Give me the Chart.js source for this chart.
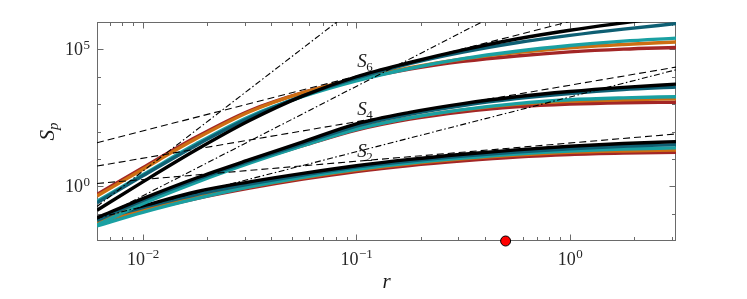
<!DOCTYPE html>
<html><head><meta charset="utf-8">
<script src="https://cdn.jsdelivr.net/npm/chart.js@4/dist/chart.umd.min.js"></script>
<style>html,body{margin:0;padding:0;background:#fff}</style>
</head><body>
<canvas id="c" width="747" height="299"></canvas>
<script>
// ---------- data ----------
const r = [0.0061, 0.01, 0.0178, 0.0316, 0.0562, 0.1, 0.178, 0.316, 0.562, 1, 1.78, 3.14];

const S6_black    = [0.133, 1.445, 21.4, 251, 1995, 10000, 33110, 95500, 239900, 501200, 933300, 1660000];
const S6_darkteal = [0.251, 2.40, 31.6, 316, 1995, 8913, 30200, 79430, 173800, 323600, 549500, 871000];
const S6_teal     = [0.282, 2.63, 35.5, 355, 1905, 7079, 19950, 45710, 85110, 138000, 199500, 257000];
const S6_orange   = [0.437, 4.17, 55.0, 525, 2630, 8318, 21380, 44670, 75860, 114800, 151400, 186200];
const S6_red      = [0.501, 4.79, 63.1, 575, 2630, 7943, 19050, 36310, 57540, 81280, 102300, 117500];

const S4_black    = [0.0708, 0.355, 2.00, 9.33, 41.7, 190.5, 501, 1047, 1862, 2884, 4074, 5370];
const S4_darkteal = [0.0562, 0.302, 1.738, 8.32, 36.3, 158.5, 426.6, 891, 1585, 2455, 3388, 4169];
const S4_teal     = [0.0380, 0.229, 1.380, 6.92, 30.2, 120.2, 316.2, 631, 1047, 1445, 1698, 1862];
const S4_orange   = [0.0479, 0.282, 1.660, 7.94, 31.6, 125.9, 316, 617, 977, 1259, 1445, 1549];
const S4_red      = [0.0550, 0.316, 1.778, 7.94, 30.2, 112.2, 281.8, 524.8, 794, 1000, 1122, 1175];

const S2_black    = [0.0708, 0.191, 0.631, 1.445, 2.95, 5.62, 9.55, 14.79, 21.38, 28.84, 36.31, 42.66];
const S2_darkteal = [0.0603, 0.166, 0.501, 1.202, 2.57, 5.01, 8.32, 12.59, 17.78, 23.44, 28.84, 33.11];
const S2_teal     = [0.0355, 0.112, 0.355, 0.955, 2.14, 4.17, 7.08, 10.72, 15.14, 19.50, 22.91, 25.12];
const S2_orange   = [0.0479, 0.141, 0.398, 0.955, 2.04, 3.89, 6.61, 10.0, 13.80, 17.38, 19.50, 20.89];
const S2_red      = [0.0447, 0.126, 0.355, 0.851, 1.82, 3.47, 5.75, 8.51, 11.75, 14.45, 16.22, 17.38];

// reference power laws (end points at the axis limits)
const refR = [0.0061, 3.14];
const dashed_S6 = [39.0, 1.03e7];     // ~ r^2
const dashed_S4 = [5.46, 22540];      // ~ r^(4/3)
const dashed_S2 = [1.268, 81.3];      // ~ r^(2/3)
const dashdot_6 = [0.183, 3.4e15];    // ~ r^6
const dashdot_4 = [0.0618, 4.35e9];   // ~ r^4
const dashdot_2 = [0.0678, 17950];    // ~ r^2

const markerR = [0.5];
const markerS = [0.01];

const xMajor = [0.01, 0.1, 1];
const xMinor = [0.007, 0.008, 0.009, 0.02, 0.03, 0.04, 0.05, 0.06, 0.07, 0.08, 0.09,
                0.2, 0.3, 0.4, 0.5, 0.6, 0.7, 0.8, 0.9, 2, 3];
const xTickBase = ['10', '10', '10'];
const xTickExp  = ['\u22122', '\u22121', '0'];
const yMajor = [1, 1e5];
const yMinor = [0.1, 10, 100, 1000, 1e4];
const yTickBase = ['10', '10'];
const yTickExp  = ['0', '5'];

const curveLabels = [
  {main: 'S', sub: '6', r: 0.101, s: 23400},
  {main: 'S', sub: '4', r: 0.101, s: 398},
  {main: 'S', sub: '2', r: 0.101, s: 11.75}
];

// ---------- styles ----------
const C_BLACK = '#000000', C_DTEAL = '#0e5f73', C_TEAL = '#1aa0a2', C_ORANGE = '#cd6e12', C_RED = '#a32626';
const SERIF = '"Liberation Serif", "DejaVu Serif", serif';

function pts(xs, ys) { return xs.map((v, i) => ({x: v, y: ys[i]})); }
function curve(ys, color) {
  return {data: pts(r, ys), borderColor: color, borderWidth: 3.4, pointRadius: 0,
          cubicInterpolationMode: 'monotone', fill: false};
}
function ref(ys, dash) {
  return {data: pts(refR, ys), borderColor: '#000', borderWidth: 1.1, pointRadius: 0,
          borderDash: dash, fill: false};
}
const DASH = [7, 4], DASHDOT = [6, 2.5, 1.5, 2.5];

const datasets = [
  {data: pts(markerR, markerS), showLine: false, pointRadius: 5, pointBackgroundColor: '#ff0000',
   pointBorderColor: '#000', pointBorderWidth: 1, clip: false},
  ref(dashed_S6, DASH), ref(dashed_S4, DASH), ref(dashed_S2, DASH),
  ref(dashdot_6, DASHDOT), ref(dashdot_4, DASHDOT), ref(dashdot_2, DASHDOT),
  curve(S6_black, C_BLACK), curve(S6_darkteal, C_DTEAL), curve(S6_teal, C_TEAL), curve(S6_orange, C_ORANGE), curve(S6_red, C_RED),
  curve(S4_black, C_BLACK), curve(S4_darkteal, C_DTEAL), curve(S4_teal, C_TEAL), curve(S4_orange, C_ORANGE), curve(S4_red, C_RED),
  curve(S2_black, C_BLACK), curve(S2_darkteal, C_DTEAL), curve(S2_teal, C_TEAL), curve(S2_orange, C_ORANGE), curve(S2_red, C_RED)
];

const BASE_FONT = '18px ' + SERIF, EXP_FONT = '13px ' + SERIF;

const deco = {
  id: 'deco',
  beforeDatasetsDraw(chart) {
    const {ctx, chartArea: a, scales: {x, y}} = chart;
    ctx.save();
    ctx.strokeStyle = '#6a6a6a';
    ctx.lineWidth = 1;
    const L = Math.round(a.left) + 0.5, R = Math.round(a.right) - 0.5,
          T = Math.round(a.top) + 0.5, B = Math.round(a.bottom) - 0.5;
    ctx.beginPath();
    const tick = (x0, y0, x1, y1) => { ctx.moveTo(x0, y0); ctx.lineTo(x1, y1); };
    xMajor.forEach(v => { const p = Math.round(x.getPixelForValue(v)) + 0.5; tick(p, B, p, B - 6); tick(p, T, p, T + 6); });
    xMinor.forEach(v => { const p = Math.round(x.getPixelForValue(v)) + 0.5; tick(p, B, p, B - 3.5); tick(p, T, p, T + 3.5); });
    yMajor.forEach(v => { const p = Math.round(y.getPixelForValue(v)) + 0.5; tick(L, p, L + 6, p); tick(R, p, R - 6, p); });
    yMinor.forEach(v => { const p = Math.round(y.getPixelForValue(v)) + 0.5; tick(L, p, L + 3.5, p); tick(R, p, R - 3.5, p); });
    ctx.stroke();
    ctx.strokeRect(L, T, R - L, B - T);
    ctx.restore();
  },
  afterDraw(chart) {
    const {ctx, chartArea: a, scales: {x, y}} = chart;
    ctx.save();
    ctx.textBaseline = 'alphabetic';
    ctx.textAlign = 'left';
    // tick labels 10^n
    ctx.fillStyle = '#262626';
    xMajor.forEach((v, i) => {
      ctx.font = BASE_FONT; const wb = ctx.measureText(xTickBase[i]).width;
      ctx.font = EXP_FONT;  const we = ctx.measureText(xTickExp[i]).width;
      const px = x.getPixelForValue(v) - (wb + we) / 2, by = a.bottom + 24;
      ctx.font = BASE_FONT; ctx.fillText(xTickBase[i], px, by);
      ctx.font = EXP_FONT;  ctx.fillText(xTickExp[i], px + wb + 0.5, by - 7);
    });
    yMajor.forEach((v, i) => {
      ctx.font = BASE_FONT; const wb = ctx.measureText(yTickBase[i]).width;
      ctx.font = EXP_FONT;  const we = ctx.measureText(yTickExp[i]).width;
      const py = y.getPixelForValue(v), rx = a.left - 7;
      ctx.font = BASE_FONT; ctx.fillText(yTickBase[i], rx - we - 0.5 - wb, py + 6);
      ctx.font = EXP_FONT;  ctx.fillText(yTickExp[i], rx - we, py - 0.5);
    });
    // curve labels
    ctx.fillStyle = '#1a1a1a';
    curveLabels.forEach(l => {
      const px = x.getPixelForValue(l.r), py = y.getPixelForValue(l.s);
      ctx.font = 'italic 19px ' + SERIF;
      ctx.fillText(l.main, px, py);
      const w = ctx.measureText(l.main).width;
      ctx.font = '13px ' + SERIF;
      ctx.fillText(l.sub, px + w - 0.5, py + 4);
    });
    // y axis title S_p
    ctx.translate(54, (a.top + a.bottom) / 2);
    ctx.rotate(-Math.PI / 2);
    ctx.font = 'italic 21px ' + SERIF;
    const w1 = ctx.measureText('S').width;
    ctx.font = 'italic 15px ' + SERIF;
    const w2 = ctx.measureText('p').width;
    const x0 = -(w1 + w2) / 2;
    ctx.font = 'italic 21px ' + SERIF;
    ctx.fillText('S', x0, 0);
    ctx.font = 'italic 15px ' + SERIF;
    ctx.fillText('p', x0 + w1, 4);
    ctx.restore();
  }
};

new Chart(document.getElementById('c'), {
  type: 'line',
  data: {datasets},
  options: {
    responsive: false,
    animation: false,
    events: [],
    layout: {padding: {left: 0, right: 71, top: 22, bottom: 0}},
    plugins: {legend: {display: false}, tooltip: {enabled: false}},
    scales: {
      x: {
        type: 'logarithmic', min: 0.0061, max: 3.14,
        grid: {display: false, drawTicks: false}, border: {display: false},
        afterBuildTicks: s => { s.ticks = xMajor.map(v => ({value: v})); },
        afterFit: s => { s.height = 58; },
        ticks: {display: false},
        title: {display: true, text: 'r', color: '#1a1a1a', padding: {top: 0, bottom: 4},
                font: {family: SERIF, size: 21, style: 'italic'}}
      },
      y: {
        type: 'logarithmic', min: 0.01, max: 1e6,
        grid: {display: false, drawTicks: false}, border: {display: false},
        afterBuildTicks: s => { s.ticks = yMajor.map(v => ({value: v})); },
        afterFit: s => { s.width = 97; },
        ticks: {display: false}
      }
    }
  },
  plugins: [deco]
});
</script>
</body></html>
